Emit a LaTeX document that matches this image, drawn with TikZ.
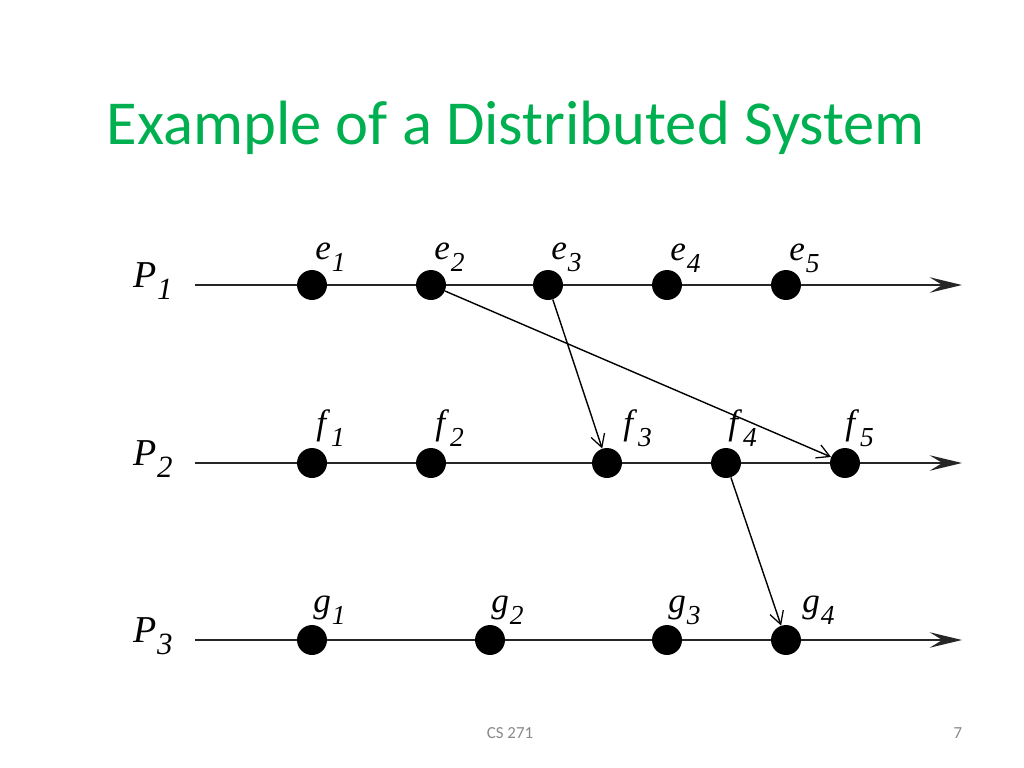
\documentclass[tikz,border=0pt]{standalone}
\usepackage{fontspec}
\setmainfont{Liberation Serif}
\newfontfamily\slidefont{Carlito}
\usetikzlibrary{arrows.meta}
\definecolor{titlegreen}{RGB}{0,176,80}
\definecolor{footgray}{RGB}{137,137,137}
% event name: italic letter with italic subscript
\newcommand{\evname}[2]{\fontsize{25}{28}\selectfont\textit{#1}\hspace{0.03em}\raisebox{-9pt}{\fontsize{19.5}{22}\selectfont\textit{#2}}}
\newcommand{\procname}[2]{\fontsize{27}{30}\selectfont\textit{#1}\hspace{0.02em}\raisebox{-9pt}{\fontsize{22}{24}\selectfont\textit{#2}}}

\begin{document}
\begin{tikzpicture}[x=0.025cm, y=-0.025cm,
    event/.style={circle, fill=black, inner sep=0pt, minimum size=21.3pt},
    timeline/.style={draw=black!85, line width=1.4pt,
      -{Stealth[length=23pt, width=11pt, inset=9pt]}},
    message/.style={draw, line width=1pt,
      -{Straight Barb[length=9pt, width=10pt, line width=0.9pt]}},
    evlabel/.style={anchor=base west, inner sep=0pt},
    proclabel/.style={anchor=base west, inner sep=0pt}]

    \useasboundingbox (0,0) rectangle (1024,768);

    % title and footer
    \node (title) [anchor=base, text=titlegreen] at (516,145)
      {\slidefont\fontsize{44.5}{50}\selectfont Example of a Distributed System};
    \node (course) [anchor=base, text=footgray] at (510,738)
      {\slidefont\fontsize{12}{14}\selectfont CS 271};
    \node (page) [anchor=base, text=footgray] at (958,738)
      {\slidefont\fontsize{12}{14}\selectfont 7};

    % processes
    \node (p1) [proclabel] at (133,287) {\procname{P}{1}};
    \node (p2) [proclabel] at (133,465) {\procname{P}{2}};
    \node (p3) [proclabel] at (133,642) {\procname{P}{3}};

    \coordinate (s1) at (195,285); \coordinate (t1) at (962,285);
    \coordinate (s2) at (195,463); \coordinate (t2) at (962,463);
    \coordinate (s3) at (195,640); \coordinate (t3) at (962,640);
    \draw[timeline] (s1) -- (t1);
    \draw[timeline] (s2) -- (t2);
    \draw[timeline] (s3) -- (t3);

    % events of P1
    \node (e1) [event] at (312,285) {};
    \node (e2) [event] at (431,285) {};
    \node (e3) [event] at (548,285) {};
    \node (e4) [event] at (667,285) {};
    \node (e5) [event] at (786,285) {};

    % events of P2
    \node (f1) [event] at (312,463) {};
    \node (f2) [event] at (431,463) {};
    \node (f3) [event] at (607,463) {};
    \node (f4) [event] at (726,463) {};
    \node (f5) [event] at (845,463) {};

    % events of P3
    \node (g1) [event] at (312,640) {};
    \node (g2) [event] at (490,640) {};
    \node (g3) [event] at (667,640) {};
    \node (g4) [event] at (786,640) {};

    % labels
    \node (le1) [evlabel] at ([shift={(3,-26)}]e1.center) {\evname{e}{1}};
    \node (le2) [evlabel] at ([shift={(3,-26)}]e2.center) {\evname{e}{2}};
    \node (le3) [evlabel] at ([shift={(3,-26)}]e3.center) {\evname{e}{3}};
    \node (le4) [evlabel] at ([shift={(3,-25)}]e4.center) {\evname{e}{4}};
    \node (le5) [evlabel] at ([shift={(3,-25)}]e5.center) {\evname{e}{5}};
    \node (lf1) [evlabel] at ([shift={(4,-29)}]f1.center) {\evname{f}{1}};
    \node (lf2) [evlabel] at ([shift={(4,-29)}]f2.center) {\evname{f}{2}};
    \node (lf3) [evlabel] at ([shift={(16,-29)}]f3.center) {\evname{f}{3}};
    \node (lf4) [evlabel] at ([shift={(2,-29)}]f4.center) {\evname{f}{4}};
    \node (lf5) [evlabel] at ([shift={(0,-29)}]f5.center) {\evname{f}{5}};
    \node (lg1) [evlabel] at ([shift={(1,-28)}]g1.center) {\evname{g}{1}};
    \node (lg2) [evlabel] at ([shift={(1,-28)}]g2.center) {\evname{g}{2}};
    \node (lg3) [evlabel] at ([shift={(1,-28)}]g3.center) {\evname{g}{3}};
    \node (lg4) [evlabel] at ([shift={(16,-28)}]g4.center) {\evname{g}{4}};

    % messages
    \draw[message] (e2) -- (f5);
    \draw[message] (e3) -- (f3);
    \draw[message] (f4) -- (g4);
  \end{tikzpicture}
\end{document}
